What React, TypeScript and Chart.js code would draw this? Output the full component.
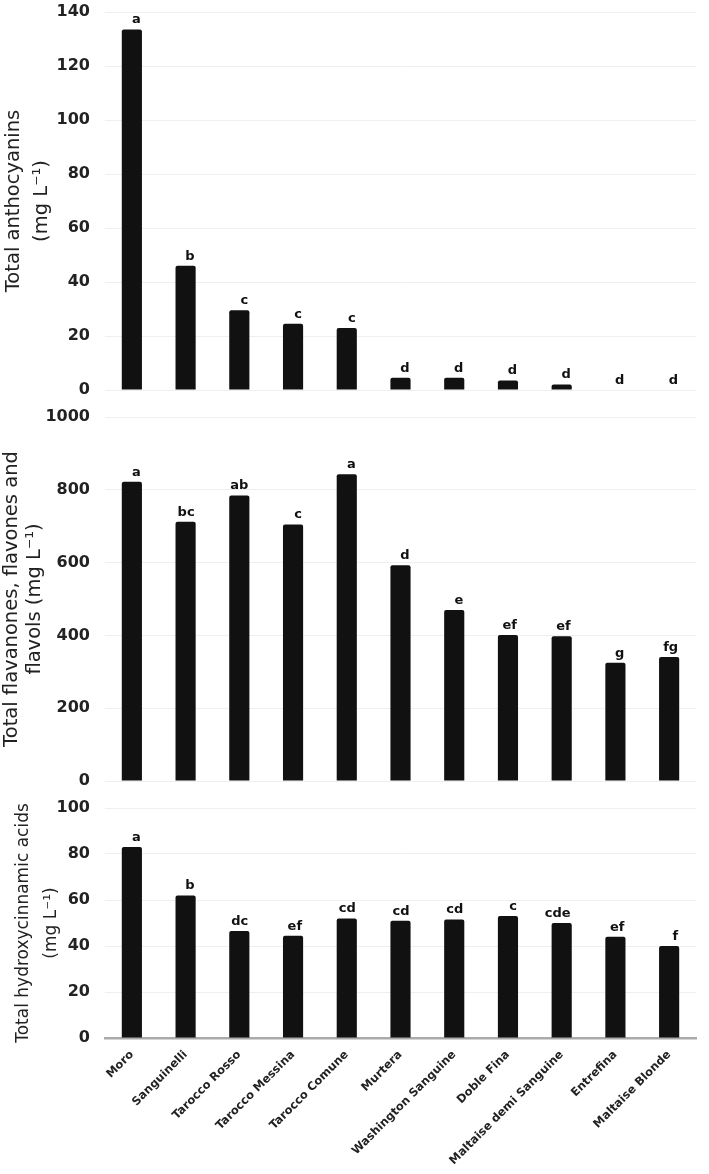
import React, { useEffect, useRef } from "react";
import { Chart, registerables } from "chart.js";

Chart.register(...registerables);

const categories = [
  "Moro",
  "Sanguinelli",
  "Tarocco Rosso",
  "Tarocco Messina",
  "Tarocco Comune",
  "Murtera",
  "Washington Sanguine",
  "Doble Fina",
  "Maltaise demi Sanguine",
  "Entrefina",
  "Maltaise Blonde",
];

const anthocyanins = [133.5, 46, 29.5, 24.5, 23, 4.5, 4.5, 3.5, 2, 0, 0];
const anthocyaninLetters = ["a", "b", "c", "c", "c", "d", "d", "d", "d", "d", "d"];

const flavanones = [822, 712, 784, 705, 843, 593, 470, 401, 398, 325, 341];
const flavanoneLetters = ["a", "bc", "ab", "c", "a", "d", "e", "ef", "ef", "g", "fg"];

const hydroxycinnamic = [83, 62, 46.5, 44.5, 52, 51, 51.5, 53, 50, 44, 40];
const hydroxyLetters = ["a", "b", "dc", "ef", "cd", "cd", "cd", "c", "cde", "ef", "f"];

const FONT = '"DejaVu Sans", Verdana, sans-serif';

type PanelSpec = {
  values: number[];
  letters: string[];
  title: string[];
  max: number;
  step: number;
  top: number;
  height: number;
  padTop: number;
  padBottom: number;
  titleSize: number;
  titleLineHeight: number;
  titlePad: number;
  showX: boolean;
};

const panels: PanelSpec[] = [
  {
    values: anthocyanins,
    letters: anthocyaninLetters,
    title: ["Total anthocyanins", "(mg L⁻¹)"],
    max: 140,
    step: 20,
    top: 0,
    height: 400,
    padTop: 12,
    padBottom: 10,
    titleSize: 19.5,
    titleLineHeight: 1.45,
    titlePad: 0,
    showX: false,
  },
  {
    values: flavanones,
    letters: flavanoneLetters,
    title: ["Total flavanones, flavones and", "flavols (mg L⁻¹)"],
    max: 1000,
    step: 200,
    top: 400,
    height: 400,
    padTop: 17,
    padBottom: 19,
    titleSize: 19.5,
    titleLineHeight: 1.18,
    titlePad: 0,
    showX: false,
  },
  {
    values: hydroxycinnamic,
    letters: hydroxyLetters,
    title: ["Total hydroxycinnamic acids", "(mg L⁻¹)"],
    max: 100,
    step: 20,
    top: 800,
    height: 374,
    padTop: 8,
    padBottom: 0,
    titleSize: 17,
    titleLineHeight: 1.65,
    titlePad: 10,
    showX: true,
  },
];

function Panel({ spec }: { spec: PanelSpec }) {
  const ref = useRef<HTMLCanvasElement | null>(null);
  useEffect(() => {
    if (!ref.current) return;
    const letterPlugin = {
      id: "letters",
      afterDatasetsDraw(chart: any) {
        const ctx = chart.ctx;
        const meta = chart.getDatasetMeta(0);
        ctx.save();
        ctx.font = `bold 13px ${FONT}`;
        ctx.fillStyle = "#111";
        ctx.textAlign = "right";
        ctx.textBaseline = "bottom";
        meta.data.forEach((bar: any, i: number) => {
          ctx.fillText(spec.letters[i], bar.x + 9, bar.y - 3);
        });
        ctx.restore();
      },
    };
    const chart = new Chart(ref.current, {
      type: "bar",
      data: {
        labels: categories,
        datasets: [
          {
            data: spec.values,
            backgroundColor: "#111111",
            borderRadius: 2,
            borderSkipped: "bottom",
            categoryPercentage: 1,
            barPercentage: 0.375,
          },
        ],
      },
      options: {
        animation: false,
        responsive: false,
        maintainAspectRatio: false,
        layout: {
          padding: { top: spec.padTop, bottom: spec.padBottom, right: 13, left: 0 },
        },
        plugins: { legend: { display: false }, tooltip: { enabled: false } },
        scales: {
          x: {
            display: spec.showX,
            grid: { display: false },
            border: { display: true, color: "#aaaaaa", width: 2.5 },
            ticks: {
              autoSkip: false,
              maxRotation: 45,
              minRotation: 45,
              padding: 2,
              color: "#222",
              font: { family: FONT, size: 11.5, weight: "bold" },
            },
            afterFit: (scale: any) => {
              if (spec.showX) scale.height = 136;
              scale.paddingLeft = 0;
              scale.paddingRight = 0;
            },
          },
          y: {
            min: 0,
            max: spec.max,
            border: { display: false },
            grid: { color: "#efefef", lineWidth: 1, drawTicks: false },
            ticks: {
              stepSize: spec.step,
              padding: 15,
              color: "#222",
              font: { family: FONT, size: 16, weight: "bold" },
              callback: (v: any) => String(v),
            },
            title: {
              display: true,
              text: spec.title,
              color: "#222",
              font: { family: FONT, size: spec.titleSize, lineHeight: spec.titleLineHeight },
              padding: { top: spec.titlePad, bottom: 0 },
            },
            afterFit: (scale: any) => {
              scale.width = 105;
              scale.paddingTop = 0;
              scale.paddingBottom = 0;
            },
          },
        },
      },
      plugins: [letterPlugin],
    });
    return () => chart.destroy();
  }, [spec]);
  return (
    <canvas
      ref={ref}
      width={709}
      height={spec.height}
      style={{ position: "absolute", left: 0, top: spec.top, width: 709, height: spec.height }}
    />
  );
}

export default function App() {
  return (
    <div
      style={{
        position: "absolute",
        left: 0,
        top: 0,
        width: 709,
        height: 1174,
        background: "#fff",
        overflow: "hidden",
      }}
    >
      {panels.map((p, i) => (
        <Panel key={i} spec={p} />
      ))}
    </div>
  );
}
